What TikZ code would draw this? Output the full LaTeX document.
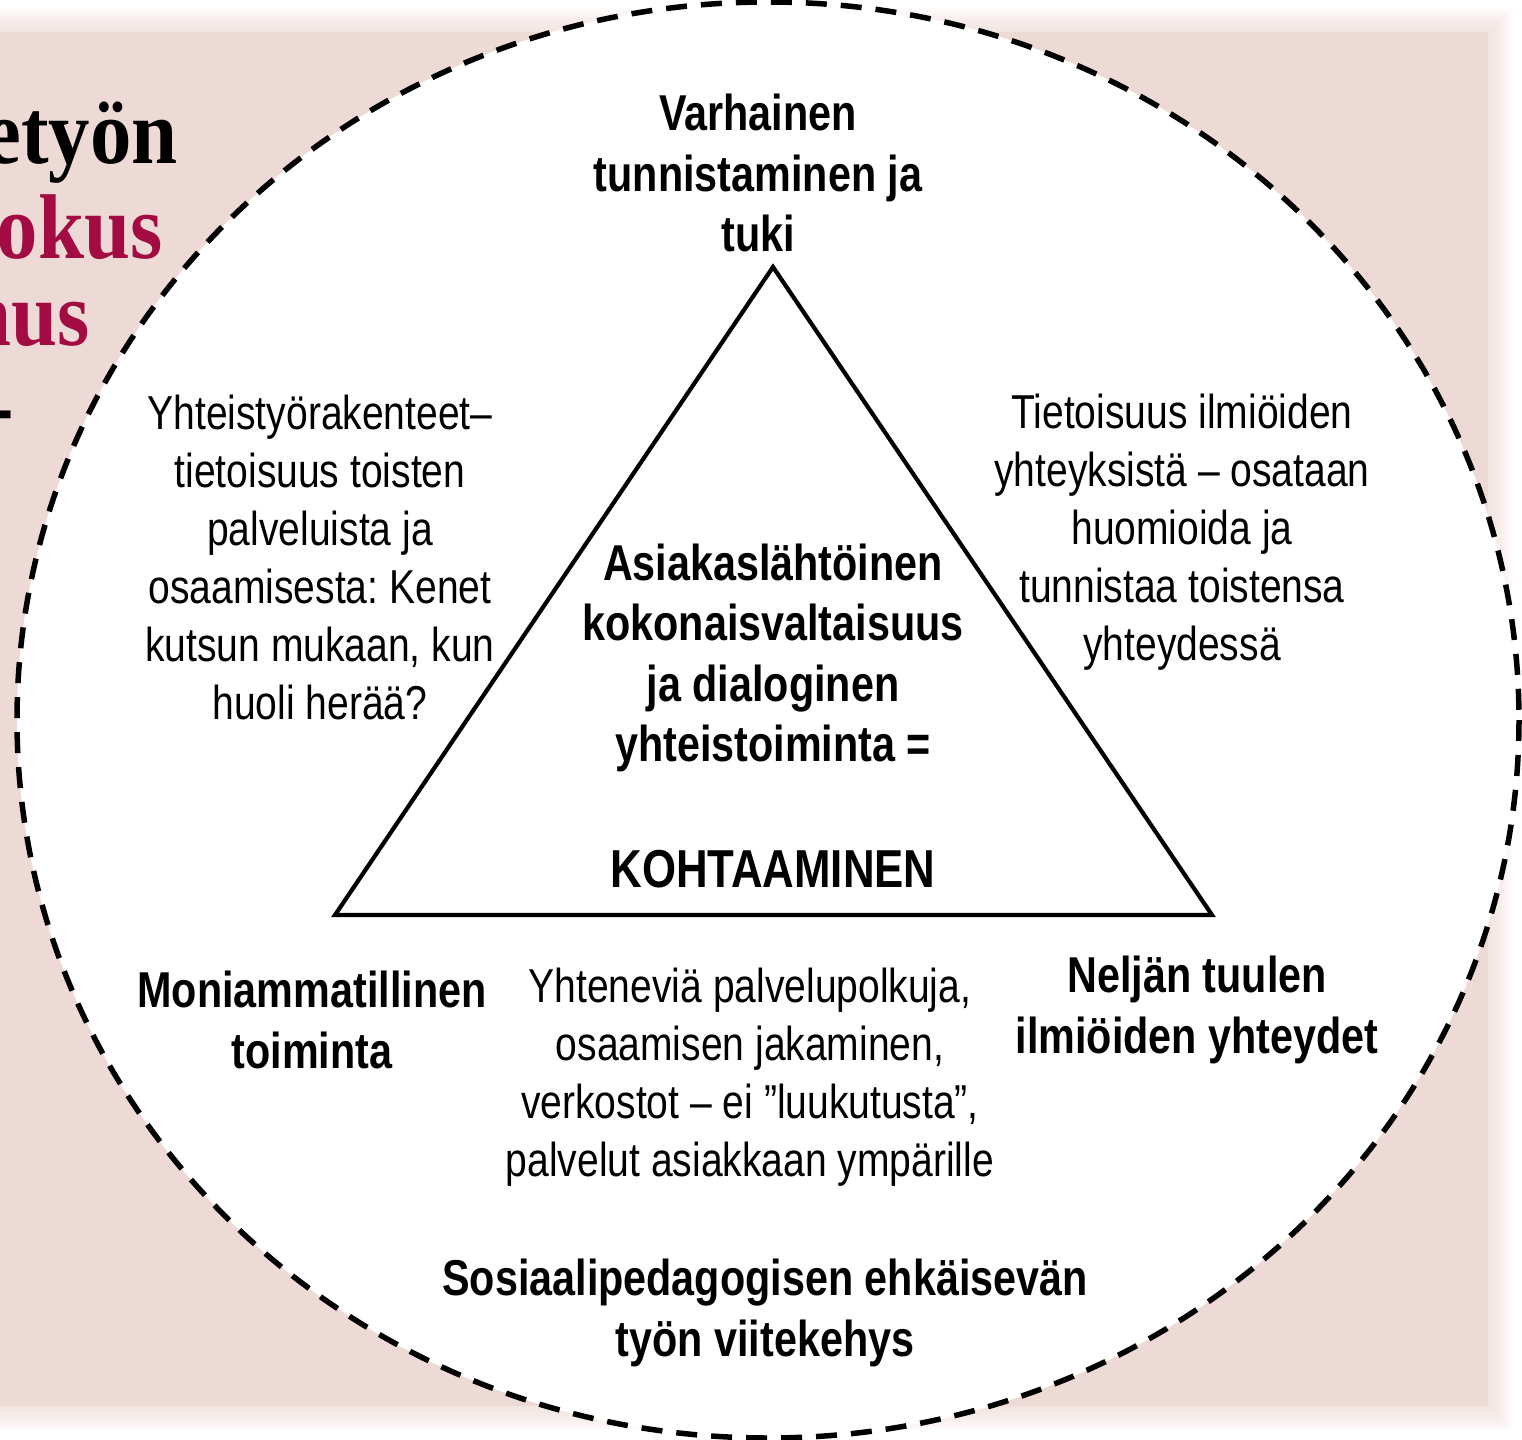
\documentclass[tikz,border=0pt]{standalone}
\usepackage{fontspec}
\setmainfont{Liberation Sans}[FakeStretch=0.82]
\newfontfamily\titlefont{Liberation Serif}[FakeStretch=0.9]
\definecolor{bgpink}{RGB}{237,217,213}
\definecolor{titlered}{RGB}{163,12,67}
\frenchspacing
\begin{document}
\begin{tikzpicture}[x=0.5pt,y=-0.5pt,
  reg/.style={align=center,inner sep=0pt,font=\fontsize{23.8}{29}\selectfont},
  bld/.style={align=center,inner sep=0pt,font=\fontsize{25.2}{30.2}\selectfont\bfseries},
  ttl/.style={anchor=base east,inner sep=0pt,font=\fontsize{46}{48}\selectfont\titlefont\bfseries},
  ring/.style={line width=2.75pt,dash pattern=on 10.5pt off 7pt,fill=white},
  tri/.style={line width=2.1pt,line join=miter}]
\useasboundingbox (0,0) rectangle (1522,1440);
% background with soft edges
\foreach \k in {1,...,16}
  \fill[bgpink,opacity=0.07] (-60,{32-1.5*\k}) rectangle ({1488+1.5*\k},{1406+1.5*\k});
\fill[bgpink] (-60,32) rectangle (1488,1406);
% cropped title at left
\node[ttl] (t1) at (178,163) {etyön};
\node[ttl,text=titlered] (t2) at (163,258) {okus};
\node[ttl,text=titlered] (t3) at (90,345) {nus};
\node[ttl] (t4) at (14,436) {-};
% dashed ellipse
\draw[ring] (768,720) ellipse [x radius=751, y radius=718];
% triangle
\draw[tri] (773,267) -- (335,915) -- (1212,915) -- cycle;
% texts
\node[bld] (top) at (758,173) {Varhainen\\tunnistaminen ja\\tuki};
\node[reg] (left) at (320,557) {Yhteistyörakenteet–\\tietoisuus toisten\\palveluista ja\\osaamisesta: Kenet\\kutsun mukaan, kun\\huoli herää?};
\node[reg] (right) at (1182,532) {Tietoisuus ilmiöiden\\yhteyksistä – osataan\\huomioida ja\\tunnistaa toistensa\\yhteydessä};
\node[bld] (center) at (773,716) {Asiakaslähtöinen\\kokonaisvaltaisuus\\ja dialoginen\\yhteistoiminta =\\[33pt]{\fontsize{26.7}{30}\selectfont KOHTAAMINEN}};
\node[bld] (multi) at (312,1020) {Moniammatillinen\\toiminta};
\node[reg] (paths) at (750,1077) {Yhteneviä palvelupolkuja,\\osaamisen jakaminen,\\verkostot – ei ”luukutusta”,\\palvelut asiakkaan ympärille};
\node[bld] (winds) at (1197,1010) {Neljän tuulen\\ilmiöiden yhteydet};
\node[bld] (frame) at (765,1313) {Sosiaalipedagogisen ehkäisevän\\työn viitekehys};
\end{tikzpicture}
\end{document}
